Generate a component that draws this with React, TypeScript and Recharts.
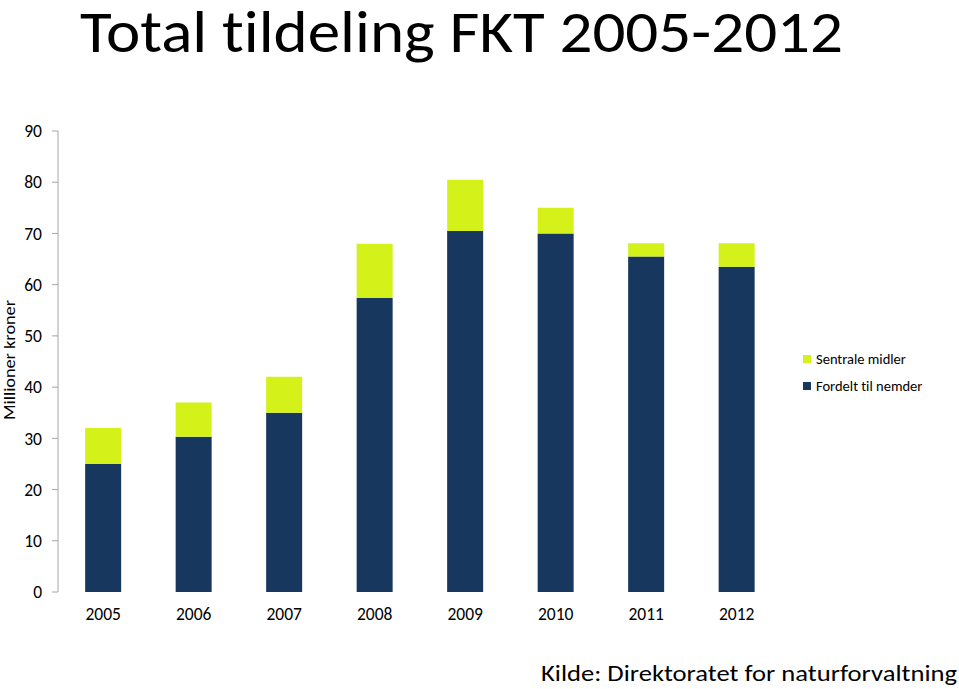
import React from "react";
import { BarChart, Bar, XAxis, YAxis } from "recharts";

const years = ["2005", "2006", "2007", "2008", "2009", "2010", "2011", "2012"];
const fordelt = [25, 30.3, 35, 57.4, 70.5, 70, 65.5, 63.5];
const sentrale = [7, 6.7, 7, 10.6, 10, 5, 2.6, 4.6];
const yTicks = [0, 10, 20, 30, 40, 50, 60, 70, 80, 90];
const boundaryTicks = [0, 1, 2, 3, 4, 5, 6, 7, 8];
const legendItems = [
  { name: "Sentrale midler", color: "#D4F11A" },
  { name: "Fordelt til nemder", color: "#17375E" },
];

const NAVY = "#17375E";
const LIME = "#D4F11A";
const AXIS = "#A6A6A6";
const FONT = "Carlito, Calibri, Lato, sans-serif";
const NOLIG = { fontVariantLigatures: "none" as const };

const data = years.map((y, i) => ({
  year: y,
  idx: i + 0.5,
  fordelt: fordelt[i],
  sentrale: sentrale[i],
}));

export default function App() {
  return (
    <div style={{ position: "absolute", left: 0, top: 0, width: 959, height: 689, background: "#fff" }}>
      <svg width={959} height={689} style={{ position: "absolute", left: 0, top: 0, ...NOLIG }}>
        <text
          x={80}
          y={52}
          fontFamily={FONT}
          fontSize={59}
          textLength={763}
          lengthAdjust="spacingAndGlyphs"
          fill="#000"
        >
          Total tildeling FKT 2005-2012
        </text>
        <text
          x={541}
          y={681}
          fontFamily={FONT}
          fontSize={22}
          textLength={416}
          lengthAdjust="spacingAndGlyphs"
          fill="#000"
        >
          Kilde: Direktoratet for naturforvaltning
        </text>
        <text
          x={0}
          y={0}
          transform="translate(15,360) rotate(-90)"
          textAnchor="middle"
          fontFamily={FONT}
          fontSize={16}
          textLength={120}
          lengthAdjust="spacingAndGlyphs"
          fill="#000"
        >
          Millioner kroner
        </text>
      </svg>
      <div style={{ position: "absolute", left: 0, top: 0 }}>
        <BarChart
          width={959}
          height={689}
          data={data}
          margin={{ top: 131, right: 177, bottom: 0, left: 0 }}
          barCategoryGap="30%"
        >
          <XAxis
            xAxisId="grid"
            dataKey="idx"
            type="number"
            domain={[0, 8]}
            ticks={boundaryTicks}
            tickFormatter={() => ""}
            height={0}
            tickSize={6}
            stroke={AXIS}
            axisLine={{ stroke: AXIS }}
            tickLine={{ stroke: AXIS }}
          />
          <XAxis
            xAxisId="cat"
            dataKey="year"
            height={97}
            axisLine={false}
            tickLine={false}
            tickSize={0}
            tickMargin={16}
            fontSize={17.5}
            fontFamily={FONT}
            tick={{ fill: "#000", fontSize: 17.5, fontFamily: FONT }}
          />
          <YAxis
            width={58}
            domain={[0, 90]}
            ticks={yTicks}
            interval={0}
            tickSize={6}
            tickMargin={10}
            fontSize={17.5}
            fontFamily={FONT}
            axisLine={{ stroke: AXIS }}
            tickLine={{ stroke: AXIS }}
            tick={{ fill: "#000", fontSize: 17.5, fontFamily: FONT }}
          />
          <Bar
            xAxisId="cat"
            dataKey="fordelt"
            name="Fordelt til nemder"
            stackId="a"
            fill={NAVY}
            isAnimationActive={false}
          />
          <Bar
            xAxisId="cat"
            dataKey="sentrale"
            name="Sentrale midler"
            stackId="a"
            fill={LIME}
            isAnimationActive={false}
          />
        </BarChart>
      </div>
      <div
        style={{
          position: "absolute",
          left: 803,
          top: 345,
          fontFamily: FONT,
          fontSize: 14.5,
          color: "#000",
          ...NOLIG,
        }}
      >
        {legendItems.map((it) => (
          <div key={it.name} style={{ display: "flex", alignItems: "center", height: 27 }}>
            <span style={{ width: 8, height: 8, background: it.color, marginRight: 5 }} />
            <span>{it.name}</span>
          </div>
        ))}
      </div>
    </div>
  );
}
